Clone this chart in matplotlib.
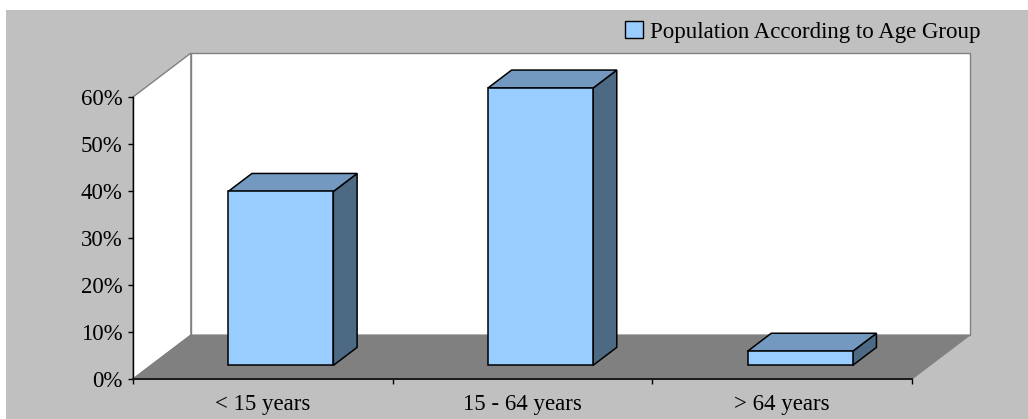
import matplotlib
matplotlib.use("Agg")
import matplotlib.pyplot as plt
from matplotlib.patches import Polygon, Patch, Rectangle
from matplotlib.ticker import FixedLocator, FuncFormatter

# ---- data ---------------------------------------------------------------
categories = ["< 15 years", "15 - 64 years", "> 64 years"]
shares = [37, 59, 3]                      # percent of population
series_name = "Population According to Age Group"
y_ticks = [0, 10, 20, 30, 40, 50, 60]

# ---- style --------------------------------------------------------------
BG = "#C0C0C0"
WALL = "#FFFFFF"
FLOOR = "#808080"
WALL_EDGE = "#808080"
FRONT = "#99CCFF"
TOP = "#7399C0"
SIDE = "#4D6A85"
FONT = "Liberation Serif"
FS = 16.5

plt.rcParams["font.family"] = FONT

fig = plt.figure(figsize=(10.28, 4.19), dpi=100, facecolor="white")
# chart area background, leaving a thin white margin at the top and left
fig.patches.append(Rectangle((6 / 1028, 0), 1 - 6 / 1028, 1 - 10 / 419,
                             transform=fig.transFigure, facecolor=BG,
                             edgecolor="none", zorder=-10))

ax = fig.add_axes([133 / 1028, 40 / 419, 779 / 1028, 282 / 419])
n = len(categories)
ymax = y_ticks[-1]
ax.set_xlim(0, n)
ax.set_ylim(0, ymax)
ax.patch.set_visible(False)

# oblique depth offset (data units) for the full depth of the plot box
DX, DY = 0.223, 9.35


def poly(pts, fc, ec, lw, z):
    ax.add_patch(Polygon(pts, closed=True, facecolor=fc, edgecolor=ec,
                         linewidth=lw, zorder=z, clip_on=False,
                         joinstyle="miter"))


# walls and floor
poly([(0, 0), (0, ymax), (DX, ymax + DY), (DX, DY)], WALL, WALL_EDGE, 1.0, 0.5)
poly([(DX, DY), (DX, ymax + DY), (n + DX, ymax + DY), (n + DX, DY)],
     WALL, WALL_EDGE, 1.0, 0.5)
poly([(0, 0), (n, 0), (n + DX, DY), (DX, DY)], FLOOR, FLOOR, 0.8, 0.6)

# 3-D bars
bar_w = 0.405
d_front, d_depth = 0.31, 0.41
for i, v in enumerate(shares):
    x0 = i + 0.5 - bar_w / 2 + d_front * DX
    y0 = d_front * DY
    bx, by = d_depth * DX, d_depth * DY
    x1, y1 = x0 + bar_w, y0 + v
    poly([(x1, y0), (x1 + bx, y0 + by), (x1 + bx, y1 + by), (x1, y1)],
         SIDE, "black", 1.1, 3)
    poly([(x0, y1), (x1, y1), (x1 + bx, y1 + by), (x0 + bx, y1 + by)],
         TOP, "black", 1.1, 3)
    poly([(x0, y0), (x1, y0), (x1, y1), (x0, y1)], FRONT, "black", 1.1, 3)

# axes
for side in ("top", "right"):
    ax.spines[side].set_visible(False)
ax.spines["left"].set_color("black")
ax.spines["left"].set_linewidth(1.0)
ax.spines["bottom"].set_color("#1a1a1a")
ax.spines["bottom"].set_linewidth(1.4)

ax.set_yticks(y_ticks)
ax.yaxis.set_major_formatter(FuncFormatter(lambda v, _: f"{v:.0f}%"))
ax.tick_params(axis="y", direction="out", length=3.6, width=1.0,
               pad=4, labelsize=FS, colors="black")

ax.xaxis.set_major_locator(FixedLocator(range(n + 1)))
ax.xaxis.set_minor_locator(FixedLocator([i + 0.5 for i in range(n)]))
ax.set_xticklabels([], minor=False)
ax.set_xticklabels(categories, minor=True)
ax.tick_params(axis="x", which="major", direction="out", length=3.6,
               width=1.0, colors="black")
ax.tick_params(axis="x", which="minor", length=0, pad=11, labelsize=FS)

# legend
handle = Patch(facecolor=FRONT, edgecolor="black", linewidth=1.0)
fig.legend([handle], [series_name], loc="center",
           bbox_to_anchor=(803 / 1028, 1 - 32 / 419), frameon=False,
           fontsize=FS, handlelength=0.8, handleheight=0.7,
           handletextpad=0.3, borderpad=0)

fig.savefig("out.png", dpi=100, facecolor="white")
